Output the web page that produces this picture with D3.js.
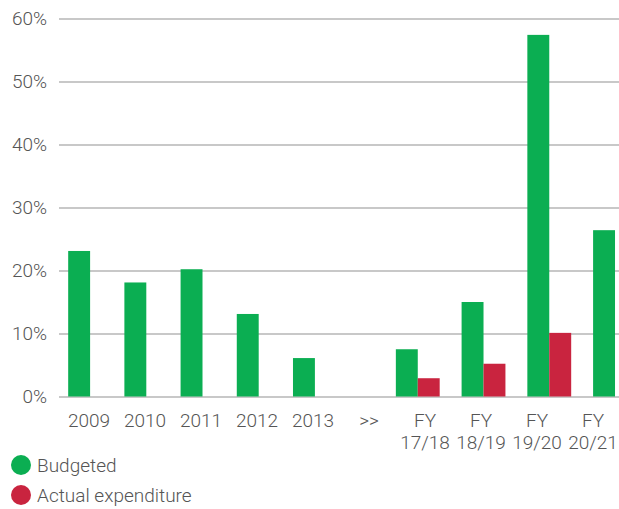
<!DOCTYPE html>
<html>
<head>
<meta charset="utf-8">
<script src="https://cdn.jsdelivr.net/npm/d3@7"></script>
<style>
  body { margin: 0; background: #fff; }
  text { font-family: Roboto, "DejaVu Sans", sans-serif; font-weight: 300; fill: #555; }
</style>
</head>
<body>
<div id="chart"></div>
<script>
// Categories along the x axis (FY labels are split onto two lines)
const categories = ["2009", "2010", "2011", "2012", "2013", ">>", "FY 17/18", "FY 18/19", "FY 19/20", "FY 20/21"];
const calendarYears = ["2009", "2010", "2011", "2012", "2013"];
const fiscalYears = ["FY 17/18", "FY 18/19", "FY 19/20", "FY 20/21"];

// Series values (percent), null where no bar is drawn
const budgeted = [23.1, 18.1, 20.2, 13.1, 6.1, null, 7.5, 15.0, 57.4, 26.4];
const actual = [null, null, null, null, null, null, 2.9, 5.2, 10.1, null];

const seriesNames = ["Budgeted", "Actual expenditure"];
const seriesColors = ["#0bae52", "#c9243f"];
const yTicks = [0, 10, 20, 30, 40, 50, 60];

const width = 619, height = 509;
const left = 59;

const svg = d3.select("#chart").append("svg")
    .attr("width", width)
    .attr("height", height);

// Scales
const y = d3.scaleLinear().domain([0, 60]).range([396.5, 18.5]);

// labels are evenly spaced
const xLabel = d3.scaleBand().domain(categories).range([61, 621]);

// the bars of the two periods sit on their own spacing
const xYears = d3.scaleBand().domain(calendarYears).range([62, 343]).paddingInner(0.22).paddingOuter(0.11);
const xFY = d3.scaleBand().domain(fiscalYears).range([385, 648]).paddingInner(0.33).paddingOuter(0.165);
const xSub = d3.scaleBand().domain(seriesNames).range([0, xYears.bandwidth()]);

function barX(cat) {
    return calendarYears.includes(cat) ? xYears(cat) : xFY(cat);
}

// Y axis with gridlines
const yAxis = svg.append("g")
    .attr("transform", `translate(${left},0)`)
    .call(d3.axisLeft(y)
        .tickValues(yTicks)
        .tickFormat(d => d + "%")
        .tickSize(-(width - left))
        .tickPadding(12));
yAxis.select(".domain").remove();
yAxis.selectAll(".tick line")
    .attr("stroke", "#c8c8c8")
    .attr("stroke-width", 2);
yAxis.selectAll(".tick text")
    .attr("fill", "#555")
    .style("font-size", "19px")
    .style("font-family", "Roboto, sans-serif")
    .style("font-weight", 300);

// Bars
const rows = categories.map((c, i) => ({ cat: c, values: [budgeted[i], actual[i]] }))
    .filter(d => d.cat !== ">>");

const group = svg.append("g")
    .selectAll("g")
    .data(rows)
    .join("g")
    .attr("transform", d => `translate(${barX(d.cat)},0)`);

group.selectAll("rect")
    .data(d => d.values.map((v, j) => ({ name: seriesNames[j], value: v, color: seriesColors[j] }))
        .filter(e => e.value != null))
    .join("rect")
    .attr("x", e => xSub(e.name))
    .attr("width", xSub.bandwidth())
    .attr("y", e => y(e.value))
    .attr("height", e => y(0) - y(e.value))
    .attr("fill", e => e.color);

// X labels
const xText = svg.append("g")
    .selectAll("text")
    .data(categories)
    .join("text")
    .attr("text-anchor", "middle")
    .style("font-size", "19px")
    .attr("x", d => xLabel(d) + xLabel.bandwidth() / 2)
    .attr("y", 427);

xText.each(function(d) {
    const t = d3.select(this);
    const parts = d.split(" ");
    parts.forEach((p, k) => {
        t.append("tspan")
            .attr("x", xLabel(d) + xLabel.bandwidth() / 2)
            .attr("dy", k === 0 ? 0 : 22)
            .text(p);
    });
});

// Legend
const legend = svg.append("g")
    .selectAll("g")
    .data(seriesNames)
    .join("g")
    .attr("transform", (d, i) => `translate(21,${465 + i * 30})`);

legend.append("circle")
    .attr("r", 10)
    .attr("fill", (d, i) => seriesColors[i]);

legend.append("text")
    .attr("x", 16)
    .attr("dy", "0.35em")
    .style("font-size", "19px")
    .text(d => d);
</script>
</body>
</html>
